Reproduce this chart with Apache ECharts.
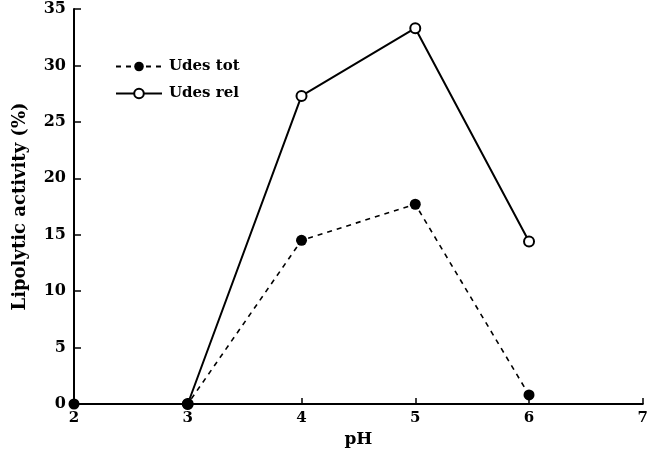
<!DOCTYPE html>
<html>
<head>
<meta charset="utf-8">
<script src="https://cdn.jsdelivr.net/npm/echarts@6/dist/echarts.min.js"></script>
<style>
  html, body { margin: 0; padding: 0; background: #fff; }
  #chart { width: 651px; height: 453px; }
</style>
</head>
<body>
<div id="chart"></div>
<script>
// pH values and lipolytic activity (%)
const phValues = [2, 3, 4, 5, 6];
const udesTot = [0, 0, 14.5, 17.7, 0.8];
const udesRel = [null, 0, 27.3, 33.3, 14.4];

const font = 'DejaVu Serif';

const chart = echarts.init(document.getElementById('chart'));

const option = {
  animation: false,
  backgroundColor: '#fff',
  textStyle: { fontFamily: font, fontWeight: 'bold', color: '#000' },
  grid: { left: 74, right: 2, top: 9, bottom: 48 },
  legend: {
    left: 110,
    top: 54,
    orient: 'vertical',
    itemWidth: 46,
    itemHeight: 12,
    itemGap: 12,
    textStyle: { fontFamily: font, fontWeight: 'bold', fontSize: 15, color: '#000', padding: [0, 0, 0, 2] },
    data: ['Udes tot', 'Udes rel']
  },
  xAxis: {
    type: 'value',
    min: 2,
    max: 7,
    interval: 1,
    name: 'pH',
    nameLocation: 'middle',
    nameGap: 27,
    nameTextStyle: { fontFamily: font, fontWeight: 'bold', fontSize: 17, color: '#000' },
    axisLine: { lineStyle: { color: '#000', width: 2 } },
    axisTick: { inside: true, length: 6, lineStyle: { color: '#000', width: 1.5 } },
    axisLabel: { fontFamily: font, fontWeight: 'bold', fontSize: 15, color: '#000', margin: 7 },
    splitLine: { show: false }
  },
  yAxis: {
    type: 'value',
    min: 0,
    max: 35,
    interval: 5,
    name: 'Lipolytic activity (%)',
    nameLocation: 'middle',
    nameGap: 45,
    nameTextStyle: { fontFamily: font, fontWeight: 'bold', fontSize: 18, color: '#000' },
    axisLine: { show: true, lineStyle: { color: '#000', width: 2 } },
    axisTick: { show: true, inside: true, length: 7, lineStyle: { color: '#000', width: 1.5 } },
    axisLabel: { fontFamily: font, fontWeight: 'bold', fontSize: 16, color: '#000', margin: 8 },
    splitLine: { show: false }
  },
  series: [
    {
      name: 'Udes tot',
      type: 'line',
      data: phValues.map((x, i) => [x, udesTot[i]]),
      symbol: 'circle',
      symbolSize: 11,
      itemStyle: { color: '#000' },
      lineStyle: { color: '#000', width: 1.6, type: [5, 5] },
      z: 3
    },
    {
      name: 'Udes rel',
      type: 'line',
      data: phValues.map((x, i) => [x, udesRel[i]]),
      symbol: 'circle',
      symbolSize: 10,
      showAllSymbol: true,
      itemStyle: { color: '#fff', borderColor: '#000', borderWidth: 2 },
      lineStyle: { color: '#000', width: 2 },
      z: 2
    }
  ]
};

chart.setOption(option);
</script>
</body>
</html>
